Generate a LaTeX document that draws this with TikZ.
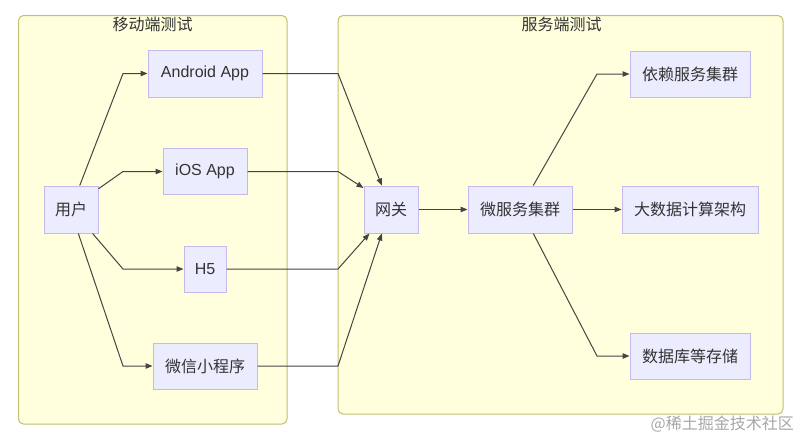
\documentclass[tikz,border=0pt]{standalone}
\usepackage{fontspec}
\setmainfont{Liberation Sans}
\newfontfamily\cjk{Noto Sans CJK SC}
\usetikzlibrary{arrows.meta}
\definecolor{clfill}{HTML}{FFFFDE}
\definecolor{cldraw}{HTML}{C0C070}
\definecolor{ndfill}{HTML}{ECECFF}
\definecolor{nddraw}{HTML}{C4B8EC}
\definecolor{txt}{HTML}{333333}
\definecolor{edge}{HTML}{444444}
\tikzset{
  cluster/.style={draw=cldraw, fill=clfill, line width=1pt, rounded corners=5pt},
  cltitle/.style={text=txt, font=\cjk\fontsize{16}{19}\selectfont, inner sep=0pt},
  box/.style={draw=nddraw, fill=ndfill, line width=1pt, text=txt, inner sep=0pt,
    font=\fontsize{16}{19}\selectfont},
  cbox/.style={box, font=\cjk\fontsize{16}{19}\selectfont},
  conn/.style={draw=edge, line width=1pt, -{Triangle[length=7pt,width=5.5pt]}},
}
\begin{document}
\begin{tikzpicture}[x=1pt,y=-1pt]
\useasboundingbox (0,0) rectangle (800,437);
% clusters
\draw[cluster] (18.5,15.5) rectangle (287,424);
\draw[cluster] (338,15.5) rectangle (783,414);
\node[cltitle] (t1) at (152.5,24.5) {移动端测试};
\node[cltitle] (t2) at (561.5,24.5) {服务端测试};
% bend coordinates
\coordinate (bl) at (123,0);
\coordinate (br) at (338,0);
\coordinate (bs) at (597,0);
% nodes
\node[cbox, minimum width=54pt, minimum height=47pt] (user) at (71,209.5) {用户};
\node[box, minimum width=114pt, minimum height=47pt] (android) at (205,73.5) {Android App};
\node[box, minimum width=84pt, minimum height=46pt] (ios) at (205,171.5) {iOS App};
\node[box, minimum width=42pt, minimum height=46pt] (h5) at (205,269) {H5};
\node[cbox, minimum width=104pt, minimum height=46pt] (wx) at (205,366) {微信小程序};
\node[cbox, minimum width=54pt, minimum height=47pt] (gw) at (391,209.5) {网关};
\node[cbox, minimum width=104pt, minimum height=47pt] (ms) at (520,209.5) {微服务集群};
\node[cbox, minimum width=120pt, minimum height=46pt] (dep) at (690,74) {依赖服务集群};
\node[cbox, minimum width=136pt, minimum height=47pt] (bd) at (690,209.5) {大数据计算架构};
\node[cbox, minimum width=120pt, minimum height=46pt] (db) at (690,356) {数据库等存储};
% edges from user
\draw[conn] (user.70) -- (bl |- android.west) -- (android.west);
\draw[conn] (user.37) -- (bl |- ios.west) -- (ios.west);
\draw[conn] (user.-48) -- (bl |- h5.west) -- (h5.west);
\draw[conn] (user.-73) -- (bl |- wx.west) -- (wx.west);
% edges to gateway
\draw[conn] (android.east) -- (br |- android.east) -- (gw.111);
\draw[conn] (ios.east) -- (br |- ios.east) -- (gw.142);
\draw[conn] (h5.east) -- (br |- h5.east) -- (gw.-132);
\draw[conn] (wx.east) -- (br |- wx.east) -- (gw.-111);
% server side
\draw[conn] (gw.east) -- (ms.west);
\draw[conn] (ms.61) -- (bs |- dep.west) -- (dep.west);
\draw[conn] (ms.east) -- (bd.west);
\draw[conn] (ms.-61) -- (bs |- db.west) -- (db.west);
% watermark
\node[text=black!35, font=\cjk\fontsize{16}{19}\selectfont, anchor=east, inner sep=0pt] (wm) at (794,424) {@稀土掘金技术社区};
\end{tikzpicture}
\end{document}
